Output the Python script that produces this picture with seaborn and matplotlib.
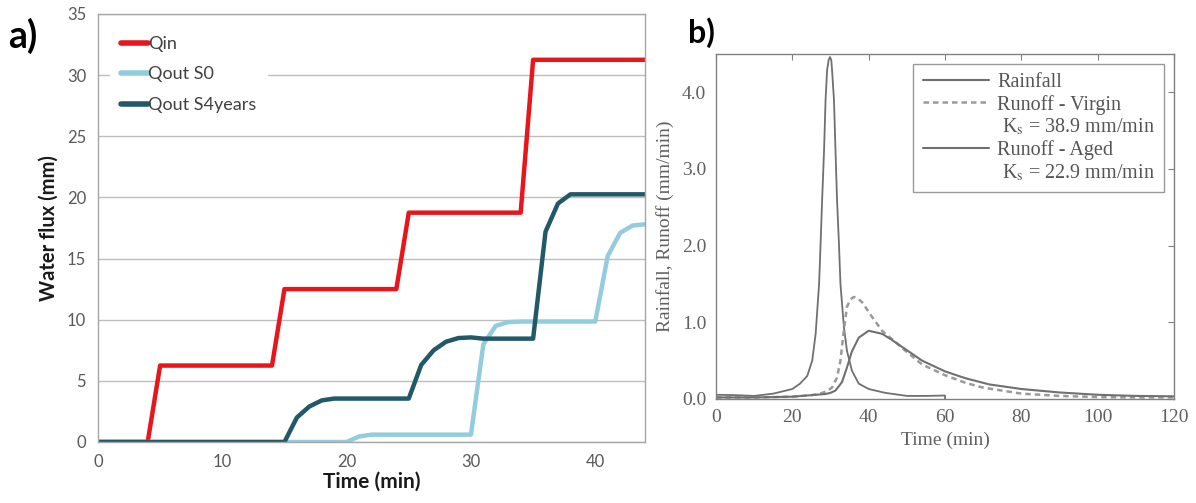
"""
Two-panel water flux / runoff comparison (a: cumulative fluxes, b: hydrographs).
"""

import numpy as np
import pandas as pd
import matplotlib
matplotlib.use("Agg")
import matplotlib.pyplot as plt
import seaborn as sns

# ---- panel a: cumulative water flux (mm) per minute ----
time_a = list(range(0, 45))
q_in = [0, 0, 0, 0, 0,
        6.25, 6.25, 6.25, 6.25, 6.25, 6.25, 6.25, 6.25, 6.25, 6.25,
        12.5, 12.5, 12.5, 12.5, 12.5, 12.5, 12.5, 12.5, 12.5, 12.5,
        18.75, 18.75, 18.75, 18.75, 18.75, 18.75, 18.75, 18.75, 18.75, 18.75,
        31.25, 31.25, 31.25, 31.25, 31.25, 31.25, 31.25, 31.25, 31.25, 31.25]
q_out_s0 = [0, 0, 0, 0, 0, 0, 0, 0, 0, 0, 0, 0, 0, 0, 0, 0, 0, 0, 0, 0, 0,
            0.45, 0.6, 0.6, 0.6, 0.6, 0.6, 0.6, 0.6, 0.6, 0.6,
            8.0, 9.5, 9.8, 9.85, 9.85, 9.85, 9.85, 9.85, 9.85, 9.85,
            15.2, 17.1, 17.7, 17.8]
q_out_s4 = [0, 0, 0, 0, 0, 0, 0, 0, 0, 0, 0, 0, 0, 0, 0, 0,
            2.0, 2.9, 3.4, 3.55, 3.55, 3.55, 3.55, 3.55, 3.55, 3.55,
            6.3, 7.5, 8.2, 8.5, 8.55, 8.45, 8.45, 8.45, 8.45, 8.45,
            17.2, 19.5, 20.25, 20.25, 20.25, 20.25, 20.25, 20.25, 20.25]
labels_a = ["Qin", "Qout S0", "Qout S4years"]
colors_a = ["#E8151B", "#93CDDD", "#215968"]

# ---- panel b: rainfall and runoff rates (mm/min) ----
rain_t = [0, 5, 10, 15, 20, 22, 23.9, 25.2, 26.1, 27.0, 27.4, 27.8, 28.3,
          28.7, 29.1, 29.5, 29.85, 30.2, 30.4, 30.9, 31.3, 31.7, 32.2, 32.6,
          33.5, 34.3, 35.6, 37.4, 40, 44.3, 50, 55, 60, 60]
rain_v = [0.055, 0.05, 0.04, 0.07, 0.13, 0.2, 0.3, 0.5, 0.85, 1.5, 2.03,
          2.6, 3.24, 3.9, 4.29, 4.42, 4.46, 4.42, 4.29, 3.9, 3.24, 2.6, 2.03,
          1.5, 0.94, 0.63, 0.37, 0.2, 0.13, 0.08, 0.04, 0.04, 0.045, 0]
virgin_t = [0, 10, 20, 25, 27, 29, 30.4, 31.7, 32.6, 33.5, 34.3, 35.2, 36.1,
            37.2, 38.3, 40.9, 43.5, 46.1, 49.6, 54, 60, 65.4, 69.8, 80, 90,
            100, 110, 120]
virgin_v = [0.02, 0.02, 0.03, 0.05, 0.065, 0.1, 0.15, 0.28, 0.5, 0.9, 1.2,
            1.3, 1.33, 1.31, 1.26, 1.07, 0.89, 0.78, 0.63, 0.45, 0.31, 0.21,
            0.15, 0.07, 0.04, 0.025, 0.02, 0.02]
aged_t = [0, 10, 20, 25, 28.7, 30, 31.3, 33, 34.3, 35.6, 37.4, 40, 43.5,
          46.1, 49.6, 54, 60, 65.4, 71.6, 80, 90, 100, 110, 120]
aged_v = [0.02, 0.02, 0.03, 0.05, 0.065, 0.08, 0.11, 0.22, 0.41, 0.62, 0.8,
          0.89, 0.85, 0.77, 0.65, 0.5, 0.36, 0.27, 0.19, 0.13, 0.085, 0.055,
          0.04, 0.035]
labels_b = ["Rainfall", "Runoff - Virgin", " K$_{\\rm s}$ = 38.9 mm/min",
            "Runoff - Aged", " K$_{\\rm s}$ = 22.9 mm/min"]

sns.set_style("white")
plt.rcParams["mathtext.fontset"] = "stix"

fig = plt.figure(figsize=(11.96, 5.03), dpi=100)

# ================= panel a =================
ax_a = fig.add_axes([0.0819, 0.1213, 0.4574, 0.851])
df_a = pd.DataFrame({"time": time_a * 3,
                     "flux": q_in + q_out_s0 + q_out_s4,
                     "series": [labels_a[0]] * 45 + [labels_a[1]] * 45 + [labels_a[2]] * 45})
sns.lineplot(data=df_a, x="time", y="flux", hue="series", hue_order=labels_a,
             palette=colors_a, estimator=None, linewidth=3.2, ax=ax_a,
             legend=False)
ax_a.set_xlim(0, 44)
ax_a.set_ylim(0, 35)
ax_a.set_xticks([0, 10, 20, 30, 40])
ax_a.set_yticks(np.arange(0, 36, 5))
ax_a.yaxis.grid(True, color="#BEBEBE", linewidth=1)
ax_a.xaxis.grid(False)
for s in ax_a.spines.values():
    s.set_color("#A6A6A6")
    s.set_linewidth(1)
ax_a.tick_params(axis="both", direction="out", length=5, color="#A6A6A6",
                 labelsize=12, labelcolor="#595959")
for lbl in ax_a.get_xticklabels() + ax_a.get_yticklabels():
    lbl.set_family("Lato")
ax_a.set_xlabel("Time (min)", fontsize=15, fontweight="bold", family="Lato",
                color="#1a1a1a", labelpad=1)
ax_a.set_ylabel("Water flux (mm)", fontsize=14.5, fontweight="bold",
                family="Lato", color="#1a1a1a", labelpad=6)
handles_a = [plt.Line2D([], [], color=c, linewidth=4) for c in colors_a]
leg_a = ax_a.legend(handles_a, labels_a, loc="upper left",
                    bbox_to_anchor=(0.005, 0.995), frameon=True,
                    handlelength=1.5, handletextpad=0.0, labelspacing=0.8,
                    borderpad=0.6, prop={"family": "Lato", "size": 13})
leg_a.get_frame().set_edgecolor("white")
leg_a.get_frame().set_facecolor("white")
leg_a.get_frame().set_alpha(1)
for t in leg_a.get_texts():
    t.set_color("#404040")
fig.text(0.007, 0.905, "a)", fontsize=27, fontweight="bold", family="Lato",
         color="black", va="baseline")

# ================= panel b =================
ax_b = fig.add_axes([0.5987, 0.2068, 0.3829, 0.6859])
df_rain = pd.DataFrame({"time": rain_t, "rate": rain_v})
df_virgin = pd.DataFrame({"time": virgin_t, "rate": virgin_v})
df_aged = pd.DataFrame({"time": aged_t, "rate": aged_v})
line_col = "#707070"
dash_col = "#9A9A9A"
sns.lineplot(data=df_rain, x="time", y="rate", estimator=None, sort=False,
             color=line_col, linewidth=1.3, ax=ax_b)
sns.lineplot(data=df_virgin, x="time", y="rate", estimator=None, sort=False,
             color=dash_col, linewidth=1.8, ax=ax_b)
sns.lineplot(data=df_aged, x="time", y="rate", estimator=None, sort=False,
             color=line_col, linewidth=1.5, ax=ax_b)
ax_b.lines[1].set_linestyle((0, (2.2, 1.6)))
ax_b.set_xlim(0, 120)
ax_b.set_ylim(0, 4.5)
ax_b.set_xticks(np.arange(0, 121, 20))
ax_b.set_yticks([0, 1, 2, 3, 4])
ax_b.set_yticklabels(["0.0", "1.0", "2.0", "3.0", "4.0"])
for s in ax_b.spines.values():
    s.set_color("#808080")
    s.set_linewidth(1)
ax_b.tick_params(axis="both", direction="in", length=4, color="#808080",
                 top=True, right=True, labelsize=14, labelcolor="#606060",
                 pad=7)
for lbl in ax_b.get_xticklabels() + ax_b.get_yticklabels():
    lbl.set_family("Liberation Serif")
ax_b.set_xlabel("Time (min)", fontsize=14, family="Liberation Serif",
                color="#606060", labelpad=4)
ax_b.set_ylabel("Rainfall, Runoff (mm/min)", fontsize=14,
                family="Liberation Serif", color="#606060", labelpad=6)
blank = plt.Line2D([], [], linewidth=0)
handles_b = [plt.Line2D([], [], color=line_col, linewidth=1.5),
             plt.Line2D([], [], color=dash_col, linewidth=1.8,
                        linestyle=(0, (2.2, 1.6))),
             blank,
             plt.Line2D([], [], color=line_col, linewidth=1.5),
             blank]
leg_b = ax_b.legend(handles_b, labels_b, loc="upper right", frameon=True,
                    fancybox=False, handlelength=3.3, handletextpad=0.4,
                    labelspacing=0.12, borderpad=0.45, borderaxespad=0.5,
                    prop={"family": "Liberation Serif", "size": 14.5})
leg_b.get_frame().set_edgecolor("#808080")
leg_b.get_frame().set_linewidth(1)
for t in leg_b.get_texts():
    t.set_color("#555555")
fig.text(0.575, 0.915, "b)", fontsize=23, fontweight="bold", family="Lato",
         color="black", va="baseline")

fig.savefig("out.png", dpi=100)
